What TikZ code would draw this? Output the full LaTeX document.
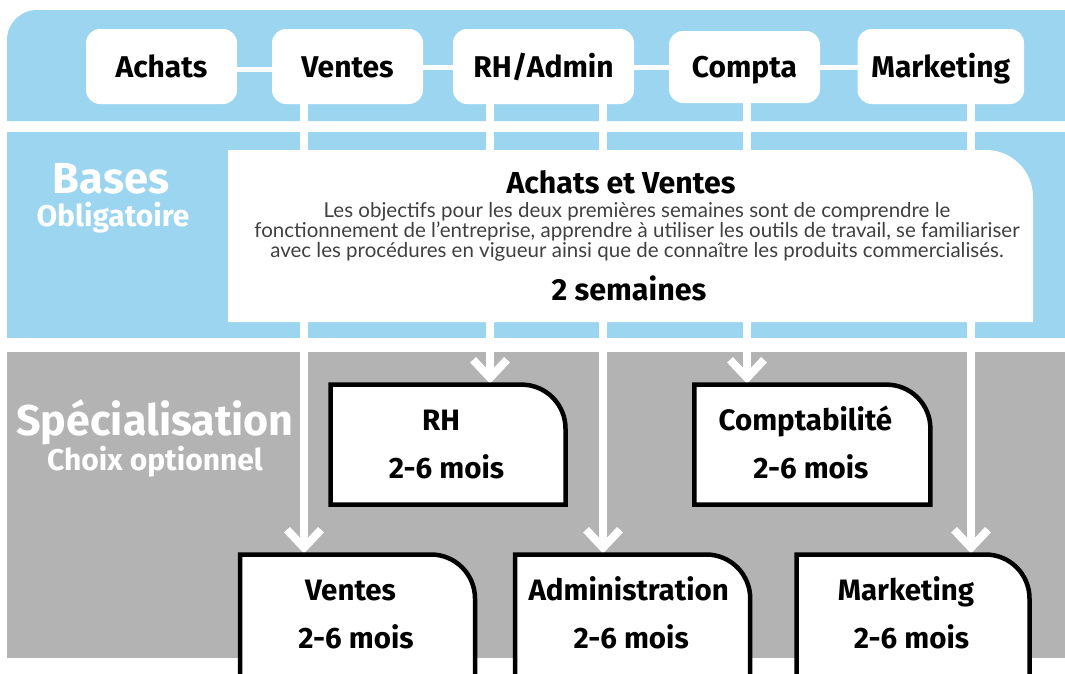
\documentclass[tikz,border=0pt]{standalone}
\usepackage{fontspec}
\setmainfont{Fira Sans}
\newfontfamily\bodyfont{Lato}
\usetikzlibrary{arrows.meta}
\definecolor{bandblue}{RGB}{155,213,240}
\definecolor{bandgray}{RGB}{179,179,179}
\definecolor{bodygray}{RGB}{64,64,64}
\begin{document}
\begin{tikzpicture}[x=1pt,y=1pt,
  topbox/.style={fill=white, rounded corners=14pt, inner sep=0pt, outer sep=0pt, minimum height=75pt, font=\fontsize{30}{32}\selectfont\bfseries, text height=21pt, text depth=0pt},
  specnode/.style={inner sep=0pt, outer sep=0pt, minimum height=#1},
  specline/.style={draw=black, line width=4.5pt, fill=white, line join=miter},
  spectitle/.style={anchor=base, inner sep=0pt, font=\fontsize{29.5}{32}\selectfont\bfseries},
  hconn/.style={draw=white, line width=5pt},
  vconn/.style={draw=white, line width=8pt, -{Straight Barb[length=18pt, width=34pt]}},
  sidelabel/.style={anchor=base, inner sep=0pt, text=white},
  plain/.style={anchor=base, inner sep=0pt},
  body/.style={anchor=base, inner sep=0pt, font=\bodyfont\fontsize{20.5}{22}\selectfont, text=bodygray},
]
\clip (0,0) rectangle (1065,-673);
\fill[white] (0,0) rectangle (1065,-673);
% bands
\fill[bandblue] (7,-121) -- (7,-40) arc[start angle=180, end angle=90, radius=30] -- (1065,-10) -- (1065,-121) -- cycle;
\fill[bandblue] (7,-132) rectangle (1065,-338);
\fill[bandgray] (7,-352) rectangle (1065,-658);
% top boxes
\node[topbox, minimum width=151pt] (tAchats) at (161.5,-66.5) {Achats};
\node[topbox, minimum width=151pt] (tVentes) at (347.5,-66.5) {Ventes};
\node[topbox, minimum width=181pt] (tRH) at (543.5,-66.5) {RH/Admin};
\node[topbox, minimum width=151pt, minimum height=72pt] (tCompta) at (744.5,-67) {Compta};
\node[topbox, minimum width=166.5pt] (tMark) at (940.75,-66.5) {Marketing};
\draw[hconn] ([yshift=-3pt]tAchats.east) -- ([yshift=-3pt]tAchats.east -| tVentes.west);
\draw[hconn] ([yshift=-1pt]tVentes.east) -- ([yshift=-1pt]tVentes.east -| tRH.west);
\draw[hconn] ([yshift=-1pt]tRH.east) -- ([yshift=-1pt]tRH.east -| tCompta.west);
\draw[hconn] (tCompta.east) -- (tCompta.east -| tMark.west);
% specialisation box anchors
\node[specnode=120pt, minimum width=235pt] (sRH) at (448,-444.6) {};
\node[specnode=120pt, minimum width=236pt] (sCompta) at (812.4,-444.6) {};
\node[specnode=160pt, minimum width=235pt] (sVentes) at (357.5,-634.5) {};
\node[specnode=160pt, minimum width=235pt] (sAdmin) at (632.7,-634.5) {};
\node[specnode=160pt, minimum width=233pt] (sMark) at (913,-634.5) {};
% vertical connectors (under the info box)
\coordinate (xV) at (304,0);
\coordinate (xR) at (490,0);
\coordinate (xA) at (603,0);
\coordinate (xC) at (747,0);
\coordinate (xM) at (971,0);
\draw[vconn] (tVentes.south -| xV) -- ([yshift=1pt]sVentes.north -| xV);
\draw[vconn] (tRH.south -| xR) -- ([yshift=1pt]sRH.north -| xR);
\draw[vconn] (tRH.south -| xA) -- ([yshift=1pt]sAdmin.north -| xA);
\draw[vconn] (tCompta.south -| xC) -- ([yshift=1pt]sCompta.north -| xC);
\draw[vconn] (tMark.south -| xM) -- ([yshift=1pt]sMark.north -| xM);
% info box
\node[inner sep=0pt, outer sep=0pt, minimum width=805pt, minimum height=172pt] (info) at (630.5,-236) {};
\fill[white] (info.south west) -- (info.north west) -- ([xshift=-47pt]info.north east) arc[start angle=90, end angle=0, radius=47pt] -- (info.south east) -- cycle;
% side labels
\node[sidelabel, font=\fontsize{43.5}{48}\selectfont\bfseries] (bases) at (111,-193.3) {Bases};
\node[sidelabel, font=\fontsize{30}{32}\selectfont\bfseries] (oblig) at (113,-226.7) {Obligatoire};
\node[sidelabel, font=\fontsize{43}{48}\selectfont\bfseries] (spec) at (155,-435) {Spécialisation};
\node[sidelabel, font=\fontsize{30}{32}\selectfont\bfseries] (choix) at (155,-470) {Choix optionnel};
% info texts
\node[plain, font=\fontsize{30.3}{32}\selectfont\bfseries] (infoT) at (621,-193) {Achats et Ventes};
\node[body] (b1) at (637,-217) {Les objectifs pour les deux premières semaines sont de comprendre le};
\node[body] (b2) at (637,-237) {fonctionnement de l’entreprise, apprendre à utiliser les outils de travail, se familiariser};
\node[body] (b3) at (637,-257) {avec les procédures en vigueur ainsi que de connaître les produits commercialisés.};
\node[plain, font=\fontsize{30.5}{32}\selectfont\bfseries] (dur) at (629,-300) {2 semaines};
% specialisation boxes
\foreach \n in {sRH,sCompta,sVentes,sAdmin,sMark}
  \draw[specline] (\n.south west) -- (\n.north west) -- ([xshift=-44pt]\n.north east) arc[start angle=90, end angle=0, radius=44pt] -- (\n.south east) -- cycle;
\node[spectitle] (rhT) at ([xshift=-7pt,yshift=-46pt]sRH.north) {RH};
\node[spectitle] (rhD) at ([xshift=-1.5pt,yshift=-94pt]sRH.north) {2-6 mois};
\node[spectitle] (coT) at ([xshift=-7pt,yshift=-46pt]sCompta.north) {Comptabilité};
\node[spectitle] (coD) at ([xshift=-1.5pt,yshift=-94pt]sCompta.north) {2-6 mois};
\node[spectitle] (veT) at ([xshift=-7pt,yshift=-46pt]sVentes.north) {Ventes};
\node[spectitle] (veD) at ([xshift=-1.5pt,yshift=-94pt]sVentes.north) {2-6 mois};
\node[spectitle] (adT) at ([xshift=-4pt,yshift=-46pt]sAdmin.north) {Administration};
\node[spectitle] (adD) at ([xshift=-1.5pt,yshift=-94pt]sAdmin.north) {2-6 mois};
\node[spectitle] (maT) at ([xshift=-7pt,yshift=-46pt]sMark.north) {Marketing};
\node[spectitle] (maD) at ([xshift=-1.5pt,yshift=-94pt]sMark.north) {2-6 mois};
\end{tikzpicture}
\end{document}
